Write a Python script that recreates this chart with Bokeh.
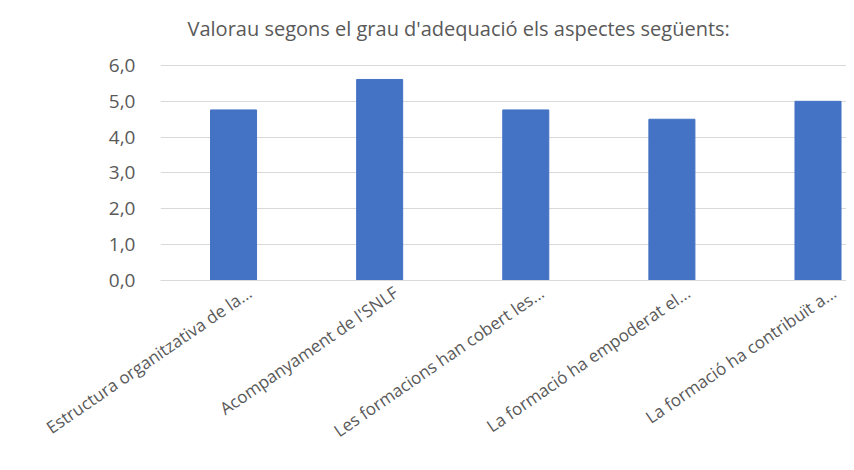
from bokeh.plotting import figure
from bokeh.models import Range1d, FixedTicker, Label
from bokeh.embed import file_html
from bokeh.resources import INLINE
import math

title_text = "Valorau segons el grau d'adequació els aspectes següents:"
categories = [
    "Estructura organitzativa de la...",
    "Acompanyament de l'SNLF",
    "Les formacions han cobert les...",
    "La formació ha empoderat el...",
    "La formació ha contribuït a...",
]
values = [4.76, 5.61, 4.76, 4.50, 5.00]
y_ticks = [0, 1, 2, 3, 4, 5, 6]
y_tick_labels = ["0,0", "1,0", "2,0", "3,0", "4,0", "5,0", "6,0"]

FONT = "Open Sans"
GREY = "#595959"

x = list(range(len(categories)))
label_shift = 0.11  # rotated category labels sit a little right of the bar centre
label_pos = [i + label_shift for i in x]

# frame runs from the top of the canvas so the title can live inside it
p = figure(
    width=846, height=454,
    output_backend="svg", toolbar_location=None,
    x_range=Range1d(-0.5, 4.195), y_range=Range1d(0, 7.674),
    min_border_left=160, min_border_right=0,
    min_border_top=5, min_border_bottom=174,
)
p.outline_line_color = None
p.background_fill_color = "white"
p.border_fill_color = "white"

p.vbar(x=x, top=values, width=0.315, fill_color="#4472C4", line_color="#4472C4")

p.add_layout(Label(
    x=-0.315, y=7.03, x_units="data", y_units="data",
    text=title_text, text_font=FONT, text_font_size="20px",
    text_color=GREY, text_align="left", text_baseline="alphabetic",
))

# y axis
p.yaxis.ticker = FixedTicker(ticks=y_ticks)
p.yaxis.major_label_overrides = {t: l for t, l in zip(y_ticks, y_tick_labels)}
p.yaxis.axis_line_color = None
p.yaxis.major_tick_line_color = None
p.yaxis.minor_tick_line_color = None
p.yaxis.major_label_standoff = 19
p.yaxis.major_label_text_font = FONT
p.yaxis.major_label_text_font_size = "19px"
p.yaxis.major_label_text_color = GREY

# x axis
p.xaxis.ticker = FixedTicker(ticks=label_pos)
p.xaxis.major_label_overrides = {pos: c for pos, c in zip(label_pos, categories)}
p.xaxis.axis_line_color = "#d9d9d9"
p.xaxis.axis_line_width = 1
p.xaxis.major_tick_line_color = None
p.xaxis.minor_tick_line_color = None
p.xaxis.major_label_orientation = math.radians(34.5)
p.xaxis.major_label_standoff = 4
p.xaxis.major_label_text_font = FONT
p.xaxis.major_label_text_font_size = "17px"
p.xaxis.major_label_text_color = GREY

p.xgrid.grid_line_color = None
p.ygrid.grid_line_color = "#d9d9d9"
p.ygrid.grid_line_width = 1
p.ygrid.ticker = FixedTicker(ticks=y_ticks)

open("out.html", "w").write(file_html(p, INLINE))
